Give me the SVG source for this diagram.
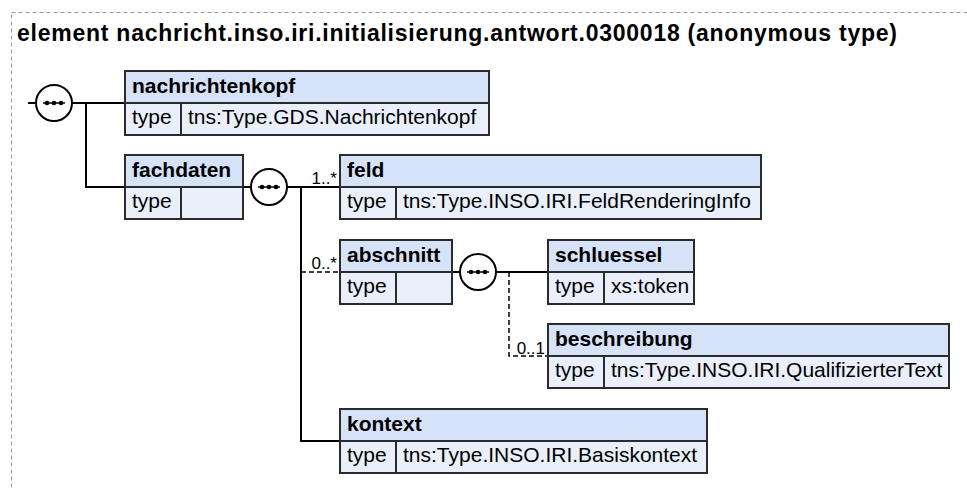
<svg xmlns="http://www.w3.org/2000/svg" width="967" height="490" viewBox="0 0 967 490">
<defs>
<style>
.frame{fill:none;stroke:#9a9a9a;stroke-width:1;stroke-dasharray:4,3}
.title{font-family:"Liberation Sans",Arial,sans-serif;font-weight:bold;font-size:23px;fill:#000}
.hd{fill:#d6e2f7;stroke:#2b2b2b;stroke-width:2}
.rw{fill:#e9f0fb;stroke:#2b2b2b;stroke-width:2}
.name{font-family:"Liberation Sans",Arial,sans-serif;font-weight:bold;font-size:21px;fill:#000}
.lbl{font-family:"Liberation Sans",Arial,sans-serif;font-size:21px;fill:#000}
.card{font-family:"Liberation Sans",Arial,sans-serif;font-size:17px;fill:#000;text-anchor:end}
.ln{fill:none;stroke:#000;stroke-width:2}
.dl{fill:none;stroke:#000;stroke-width:1.5;stroke-dasharray:5,3}
.seqc{fill:#fff;stroke:#000;stroke-width:2}
</style>
<g id="seq">
<circle class="seqc" cx="0" cy="0" r="18"/>
<line x1="-11" y1="0" x2="11" y2="0" stroke="#000" stroke-width="1.5"/>
<circle cx="-7" cy="0" r="2.3" fill="#000"/>
<circle cx="0" cy="0" r="2.3" fill="#000"/>
<circle cx="7" cy="0" r="2.3" fill="#000"/>
</g>
</defs>
<rect class="frame" x="11.5" y="12.5" width="980" height="500"/>
<text class="title" x="17" y="41" textLength="880" lengthAdjust="spacing">element nachricht.inso.iri.initialisierung.antwort.0300018 (anonymous type)</text>

<g id="connectors">
<path class="ln" d="M28,103 H36 M72,103 H125 M86,103 V187 H125"/>
<path class="ln" d="M243,187 H251 M287,187 H340 M301,187 V441 H340"/>
<path class="dl" d="M301,272 H340"/>
<path class="ln" d="M452,272 H460 M496,272 H548"/>
<path class="dl" d="M509,272 V356 H548"/>
<text class="card" x="337" y="184">1..*</text>
<text class="card" x="337" y="269">0..*</text>
<text class="card" x="545" y="354">0..1</text>
</g>

<g id="seq1"><use href="#seq" x="54" y="103"/></g>
<g id="seq2"><use href="#seq" x="269" y="187"/></g>
<g id="seq3"><use href="#seq" x="478" y="272"/></g>

<g id="nachrichtenkopf">
<rect class="hd" x="125" y="71" width="364" height="32"/>
<rect class="rw" x="125" y="103" width="364" height="32"/>
<line x1="181" y1="103" x2="181" y2="135" stroke="#2b2b2b" stroke-width="2"/>
<text class="name" x="132" y="93">nachrichtenkopf</text>
<text class="lbl" x="132" y="124">type</text>
<text class="lbl" x="188" y="124">tns:Type.GDS.Nachrichtenkopf</text>
</g>

<g id="fachdaten">
<rect class="hd" x="125" y="155" width="118" height="32"/>
<rect class="rw" x="125" y="187" width="118" height="32"/>
<line x1="181" y1="187" x2="181" y2="219" stroke="#2b2b2b" stroke-width="2"/>
<text class="name" x="132" y="177">fachdaten</text>
<text class="lbl" x="132" y="208">type</text>
</g>

<g id="feld">
<rect class="hd" x="340" y="155" width="421" height="32"/>
<rect class="rw" x="340" y="187" width="421" height="32"/>
<line x1="396" y1="187" x2="396" y2="219" stroke="#2b2b2b" stroke-width="2"/>
<text class="name" x="347" y="177">feld</text>
<text class="lbl" x="347" y="208">type</text>
<text class="lbl" x="403" y="208">tns:Type.INSO.IRI.FeldRenderingInfo</text>
</g>

<g id="abschnitt">
<rect class="hd" x="340" y="240" width="112" height="32"/>
<rect class="rw" x="340" y="272" width="112" height="32"/>
<line x1="396" y1="272" x2="396" y2="304" stroke="#2b2b2b" stroke-width="2"/>
<text class="name" x="347" y="262">abschnitt</text>
<text class="lbl" x="347" y="293">type</text>
</g>

<g id="schluessel">
<rect class="hd" x="548" y="240" width="146" height="32"/>
<rect class="rw" x="548" y="272" width="146" height="32"/>
<line x1="604" y1="272" x2="604" y2="304" stroke="#2b2b2b" stroke-width="2"/>
<text class="name" x="555" y="262">schluessel</text>
<text class="lbl" x="555" y="293">type</text>
<text class="lbl" x="611" y="293">xs:token</text>
</g>

<g id="beschreibung">
<rect class="hd" x="548" y="324" width="401" height="32"/>
<rect class="rw" x="548" y="356" width="401" height="32"/>
<line x1="604" y1="356" x2="604" y2="388" stroke="#2b2b2b" stroke-width="2"/>
<text class="name" x="555" y="346">beschreibung</text>
<text class="lbl" x="555" y="377">type</text>
<text class="lbl" x="611" y="377">tns:Type.INSO.IRI.QualifizierterText</text>
</g>

<g id="kontext">
<rect class="hd" x="340" y="409" width="367" height="32"/>
<rect class="rw" x="340" y="441" width="367" height="32"/>
<line x1="396" y1="441" x2="396" y2="473" stroke="#2b2b2b" stroke-width="2"/>
<text class="name" x="347" y="431">kontext</text>
<text class="lbl" x="347" y="462">type</text>
<text class="lbl" x="403" y="462">tns:Type.INSO.IRI.Basiskontext</text>
</g>
</svg>
